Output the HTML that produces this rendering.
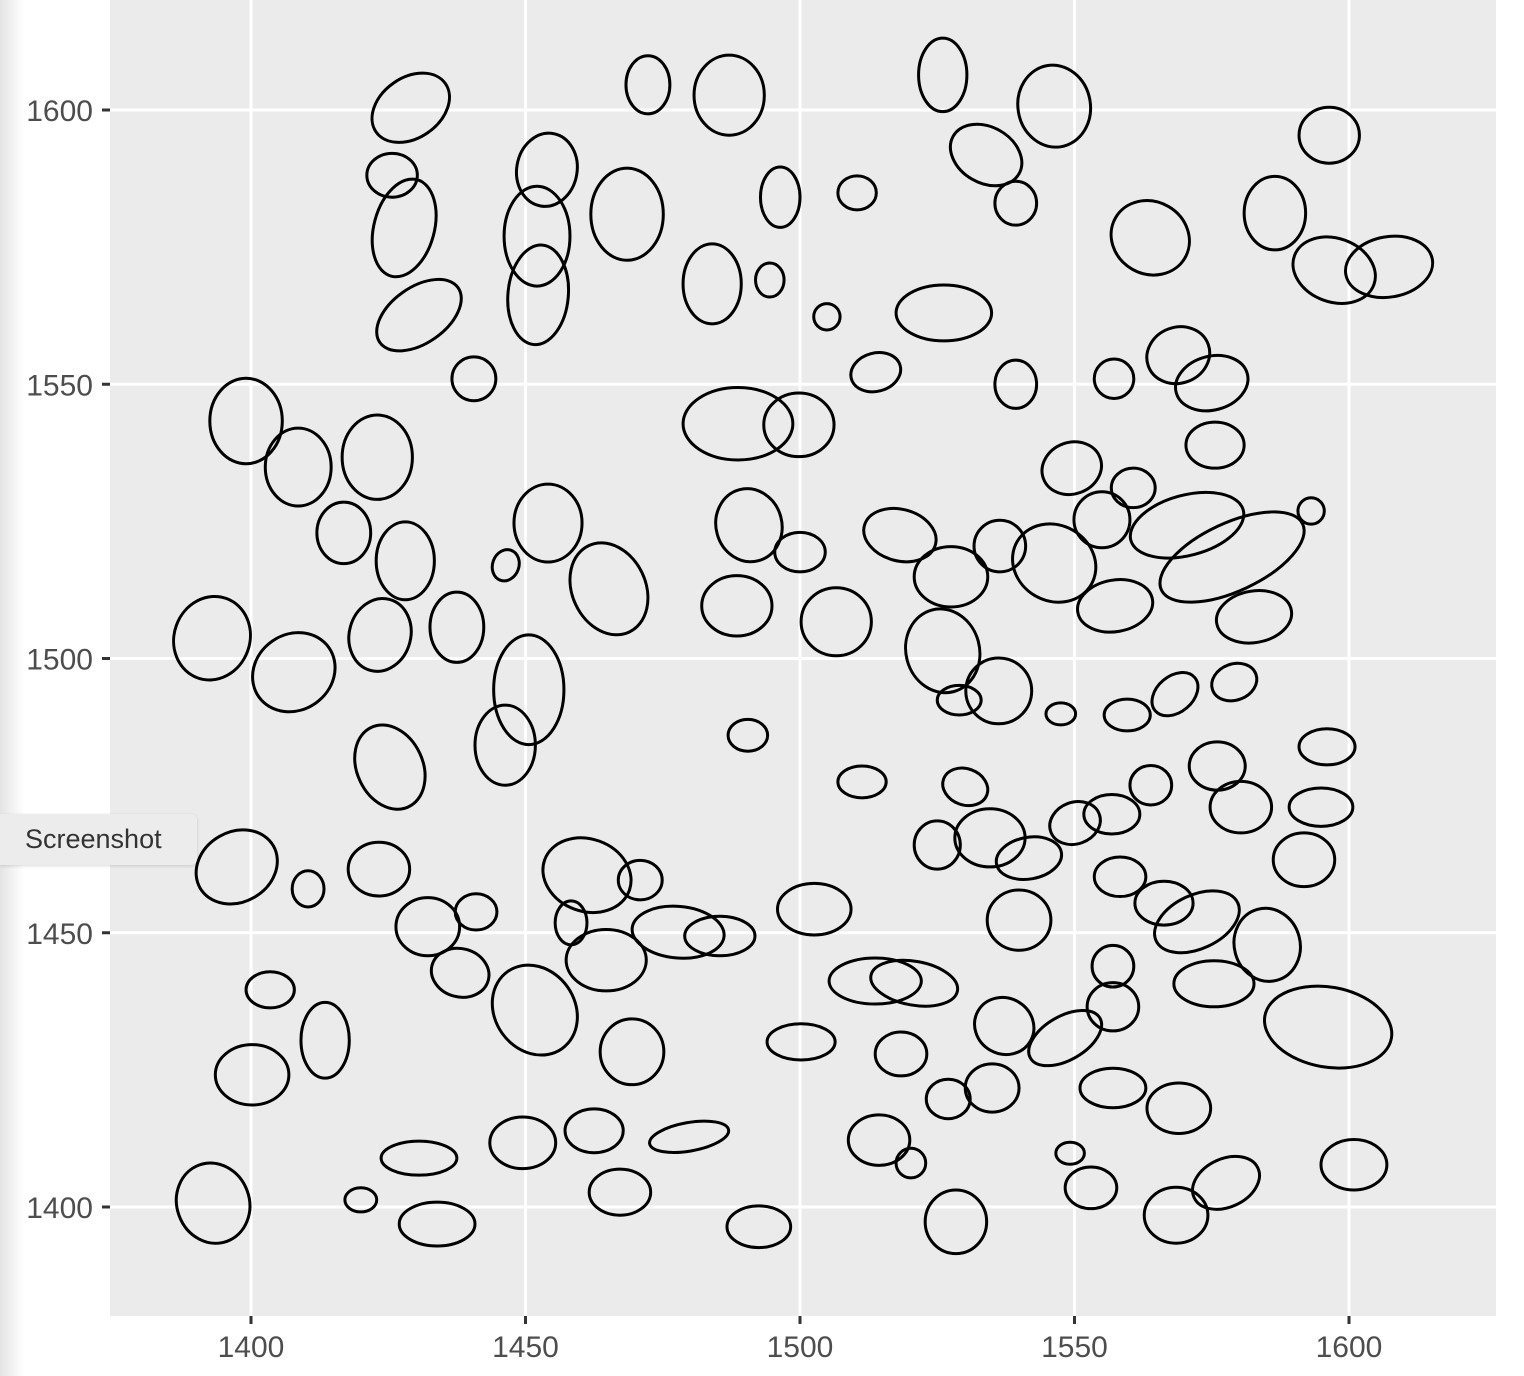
<!DOCTYPE html>
<html><head><meta charset="utf-8">
<style>
html,body{margin:0;padding:0;background:#fff;width:1524px;height:1376px;overflow:hidden;font-family:"Liberation Sans",sans-serif;}
#strip{position:absolute;left:0;top:0;width:24px;height:1376px;background:linear-gradient(to right,#e4e4e4,#fff);}
#tip{position:absolute;left:0;top:814px;width:197px;height:51px;background:#ececec;border-radius:0 6px 6px 0;box-shadow:0 1px 3px rgba(0,0,0,0.15);font-size:27px;color:#333;line-height:51px;padding-left:25px;box-sizing:border-box;}
</style></head><body>
<div id="strip"></div>
<svg id="chart" width="1524" height="1376" style="position:absolute;left:0;top:0">
<rect x="110" y="0" width="1386" height="1316" fill="#ebebeb"/>
<g id="grid"></g><g id="marks"></g><g id="axes"></g>
</svg>
<div id="tip">Screenshot</div>
<script>
const xTicks=[1400,1450,1500,1550,1600];
const yTicks=[1400,1450,1500,1550,1600];
const cx=[1429.1,1425.7,1427.9,1430.6,1440.6,1472.3,1487.1,1453.9,1452.1,1452.3,1468.5,1484.0,1496.4,1494.5,1504.9,1510.4,1526.0,1533.9,1546.3,1539.3,1563.8,1526.2,1513.8,1539.3,1557.2,1596.4,1586.5,1597.3,1607.3,1568.9,1575.0,1575.6,1399.1,1408.6,1423.0,1416.9,1428.1,1423.5,1437.5,1446.4,1454.1,1465.2,1392.9,1407.8,1450.6,1446.3,1425.3,1490.7,1488.5,1500.0,1506.6,1488.7,1499.8,1518.2,1527.5,1526.0,1536.2,1529.0,1536.4,1546.3,1549.5,1555.0,1560.7,1570.5,1578.7,1593.1,1557.4,1582.7,1547.5,1559.6,1568.3,1579.1,1490.5,1511.3,1530.1,1397.4,1410.4,1423.3,1461.2,1470.9,1458.3,1432.2,1441.0,1438.1,1464.7,1477.8,1485.4,1451.7,1469.4,1502.6,1403.5,1413.5,1400.2,1513.7,1520.8,1500.2,1518.4,1525.0,1534.6,1541.7,1550.1,1556.8,1563.9,1576.0,1580.3,1596.0,1594.9,1591.8,1558.3,1566.3,1572.3,1585.1,1539.9,1557.0,1557.0,1575.4,1596.2,1537.2,1548.3,1535.0,1527.0,1557.0,1569.0,1549.2,1553.0,1568.5,1577.6,1600.9,1528.4,1514.4,1520.2,1479.8,1462.5,1467.2,1492.5,1449.5,1430.6,1433.9,1420.0,1393.1];
const cy=[1600.4,1588.1,1578.5,1562.6,1551.0,1604.6,1602.7,1589.1,1577.0,1566.3,1581.0,1568.3,1584.1,1569.0,1562.3,1584.9,1606.4,1591.8,1600.7,1583.0,1576.7,1563.0,1552.2,1550.0,1551.0,1595.4,1581.2,1570.8,1571.4,1555.3,1550.2,1538.9,1543.3,1534.9,1536.7,1522.9,1517.8,1504.3,1505.7,1517.0,1524.7,1512.7,1503.7,1497.5,1494.3,1484.2,1480.2,1524.3,1509.6,1519.4,1506.7,1542.8,1542.6,1522.5,1514.9,1501.4,1494.1,1492.4,1520.5,1517.4,1534.7,1525.3,1531.1,1524.3,1518.5,1526.9,1509.6,1507.6,1489.9,1489.7,1493.5,1495.7,1486.0,1477.5,1476.6,1462.0,1458.0,1461.6,1460.5,1459.6,1451.8,1451.1,1453.8,1442.7,1445.0,1450.1,1449.4,1435.9,1428.3,1454.3,1439.6,1430.4,1424.1,1441.2,1440.8,1430.1,1427.9,1466.0,1467.3,1463.6,1470.0,1471.6,1476.9,1480.4,1472.9,1483.9,1472.9,1463.3,1460.2,1455.4,1452.0,1447.8,1452.3,1443.9,1436.5,1440.7,1432.8,1433.0,1430.8,1421.7,1419.7,1421.7,1418.0,1409.8,1403.5,1398.5,1404.4,1407.7,1397.3,1412.2,1408.0,1412.8,1413.9,1402.7,1396.4,1411.7,1408.9,1396.9,1401.3,1400.7];
const rx=[7.7,4.6,5.5,8.7,4.0,4.0,6.4,5.5,6.0,5.5,6.6,5.3,3.6,2.6,2.4,3.5,4.4,6.9,6.6,3.8,7.3,8.7,4.6,3.8,3.6,5.5,5.6,7.7,8.0,5.8,6.7,5.3,6.6,6.0,6.4,4.9,5.3,5.6,4.9,2.4,6.2,6.7,6.9,7.8,6.4,5.5,6.0,6.0,6.4,4.6,6.4,10.0,6.4,6.7,6.7,6.7,6.0,4.0,4.7,7.8,5.5,5.1,4.0,10.6,14.2,2.4,6.9,6.9,2.7,4.2,4.7,4.2,3.6,4.4,4.2,7.7,2.9,5.6,8.2,4.0,2.9,5.8,3.8,5.3,7.3,8.4,6.4,7.3,5.8,6.7,4.4,4.4,6.7,8.4,8.0,6.2,4.7,4.2,6.4,6.0,4.7,5.1,3.8,5.1,5.6,5.1,5.8,5.6,4.7,5.3,8.2,6.0,5.8,3.8,4.7,7.3,11.7,5.5,7.3,4.9,4.0,6.0,5.8,2.6,4.7,5.8,6.4,6.0,5.6,5.6,2.7,7.3,5.3,5.6,5.8,6.0,6.9,6.9,2.9,6.6];
const ry=[5.5,4.0,9.1,5.1,4.0,5.3,7.3,6.7,9.1,9.1,8.4,7.3,5.5,3.1,2.4,3.1,6.7,5.1,7.5,4.0,6.6,5.1,3.5,4.4,3.6,5.1,6.7,5.8,5.5,5.1,4.9,4.2,7.8,7.1,7.7,5.6,7.1,6.7,6.4,2.9,7.1,8.7,7.7,6.9,10.0,7.3,8.0,6.7,5.5,3.6,6.2,6.6,5.8,4.7,5.5,7.7,6.0,2.7,4.7,6.9,4.7,5.1,3.6,5.5,6.2,2.4,4.7,4.7,2.0,2.9,3.3,3.3,2.9,2.9,3.3,6.4,3.3,4.9,6.6,3.6,4.0,5.3,3.3,4.4,5.6,4.7,3.6,8.6,6.0,4.7,3.3,6.9,5.5,4.2,4.0,3.3,4.0,4.4,5.3,3.8,3.8,3.6,3.6,4.4,4.7,3.3,3.5,4.9,3.6,4.0,4.9,6.7,5.5,3.8,4.4,4.2,7.3,5.1,4.0,4.4,3.6,3.6,4.6,2.0,3.8,5.1,4.4,4.6,5.8,4.6,2.7,2.6,4.0,4.2,3.8,4.7,3.1,4.0,2.2,7.4];
const angle=[-35,0,15,-35,0,0,0,10,0,5,0,0,0,0,0,0,0,30,-10,0,30,0,-15,0,0,0,0,20,-10,-20,-15,0,0,0,0,0,0,15,0,20,0,-25,20,-35,0,0,-25,-15,0,0,0,0,0,15,0,-15,0,0,0,30,-20,0,0,-15,-25,0,-10,-10,0,0,-40,-20,0,0,20,-30,0,0,20,0,0,0,0,15,0,5,0,-35,0,0,0,0,0,0,10,0,0,0,0,-10,-20,0,0,0,0,0,0,0,0,0,-25,-15,0,0,0,0,10,30,-30,0,0,0,0,0,0,0,-25,0,0,0,0,-10,0,0,0,0,0,0,0,-20];
const NS='http://www.w3.org/2000/svg';
const X0=110,X1=1496,Y0=0,Y1=1316;
function sx(v){return 251+(v-1400)*5.49;}
function sy(v){return 110+(1600-v)*5.485;}
const grid=document.getElementById('grid'),marks=document.getElementById('marks'),axes=document.getElementById('axes');
xTicks.forEach(t=>{
 const l=document.createElementNS(NS,'line');
 l.setAttribute('x1',sx(t));l.setAttribute('x2',sx(t));l.setAttribute('y1',Y0);l.setAttribute('y2',Y1);
 l.setAttribute('stroke','#fff');l.setAttribute('stroke-width','3');
 
 
 grid.appendChild(l);
 const tk=document.createElementNS(NS,'line');
 tk.setAttribute('x1',sx(t));tk.setAttribute('x2',sx(t));tk.setAttribute('y1',Y1);tk.setAttribute('y2',Y1+8);
 tk.setAttribute('stroke','#333');tk.setAttribute('stroke-width','3');
 
 
 axes.appendChild(tk);
 const tx=document.createElementNS(NS,'text');
 tx.setAttribute('x',sx(t));tx.setAttribute('y',1357);tx.setAttribute('text-anchor','middle');
 tx.setAttribute('font-size','30');tx.setAttribute('fill','#4d4d4d');tx.setAttribute('font-family','Liberation Sans, sans-serif');
 tx.textContent=t;
 
 
 axes.appendChild(tx);
});
yTicks.forEach(t=>{
 const l=document.createElementNS(NS,'line');
 l.setAttribute('x1',X0);l.setAttribute('x2',X1);l.setAttribute('y1',sy(t));l.setAttribute('y2',sy(t));
 l.setAttribute('stroke','#fff');l.setAttribute('stroke-width','3');
 
 
 grid.appendChild(l);
 const tk=document.createElementNS(NS,'line');
 tk.setAttribute('x1',X0-8);tk.setAttribute('x2',X0);tk.setAttribute('y1',sy(t));tk.setAttribute('y2',sy(t));
 tk.setAttribute('stroke','#333');tk.setAttribute('stroke-width','3');
 
 
 axes.appendChild(tk);
 const tx=document.createElementNS(NS,'text');
 tx.setAttribute('x',93);tx.setAttribute('y',sy(t)+11);tx.setAttribute('text-anchor','end');
 tx.setAttribute('font-size','30');tx.setAttribute('fill','#4d4d4d');tx.setAttribute('font-family','Liberation Sans, sans-serif');
 tx.textContent=t;
 
 
 axes.appendChild(tx);
});
for(let i=0;i<cx.length;i++){
 const e=document.createElementNS(NS,'ellipse');
 const px=sx(cx[i]),py=sy(cy[i]);
 e.setAttribute('cx',px);e.setAttribute('cy',py);
 e.setAttribute('rx',rx[i]*5.49);e.setAttribute('ry',ry[i]*5.485);
 e.setAttribute('transform','rotate('+angle[i]+' '+px+' '+py+')');
 e.setAttribute('fill','none');e.setAttribute('stroke','#000');e.setAttribute('stroke-width','3');
 
 
 marks.appendChild(e);
}
</script>
</body></html>
